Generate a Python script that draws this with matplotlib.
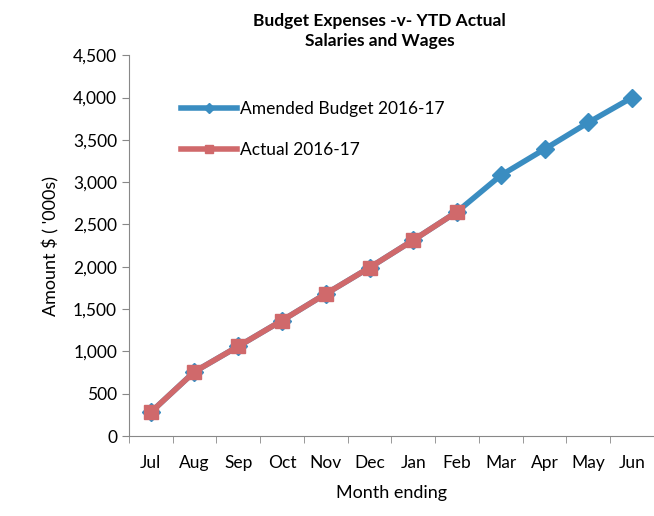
import matplotlib
matplotlib.use("Agg")
from matplotlib import pyplot as plt
from matplotlib.ticker import FuncFormatter

months = ["Jul", "Aug", "Sep", "Oct", "Nov", "Dec", "Jan", "Feb", "Mar", "Apr", "May", "Jun"]
budget = [280, 760, 1060, 1365, 1680, 1990, 2315, 2650, 3080, 3390, 3705, 4000]
actual = [280, 760, 1060, 1365, 1680, 1990, 2315, 2650]

plt.rcParams['font.family'] = ['Lato', 'DejaVu Sans']

fig = plt.figure(figsize=(6.54, 5.16), dpi=100)
ax = fig.add_axes([0.197, 0.155, 0.803, 0.738])

x = list(range(len(months)))
ax.plot(x, budget, color="#3a8dc1", lw=4, marker="D", ms=9,
        label="Amended Budget 2016-17", zorder=2)
ax.plot(x[:len(actual)], actual, color="#d0696b", lw=4, marker="s", ms=10,
        label="Actual 2016-17", zorder=3)

ax.set_xlim(-0.5, len(months) - 0.5)
ax.set_ylim(0, 4500)
ax.set_yticks(range(0, 4501, 500))
ax.yaxis.set_major_formatter(FuncFormatter(lambda v, p: f"{int(v):,}"))
ax.set_xticks(x)
ax.set_xticklabels(months)
ax.set_xticks([i - 0.5 for i in range(len(months) + 1)], minor=True)
ax.tick_params(axis="x", which="major", length=0, pad=14, labelsize=12.5)
ax.tick_params(axis="x", which="minor", length=5, color="#888888")
ax.tick_params(axis="y", length=5, color="#888888", labelsize=12.5)

for s in ["top", "right"]:
    ax.spines[s].set_visible(False)
for s in ["left", "bottom"]:
    ax.spines[s].set_color("#888888")

ax.set_ylabel("Amount $ ( '000s)", fontsize=13, labelpad=10)
ax.set_xlabel("Month ending", fontsize=13, labelpad=10)
fig.text(0.58, 0.94, "Budget Expenses -v- YTD Actual\nSalaries and Wages",
         ha="center", va="center", fontsize=12.5, fontweight="bold", linespacing=1.3)

ax.legend(loc="upper left", bbox_to_anchor=(0.07, 0.92), frameon=False,
          fontsize=12.5, handlelength=3.2, handletextpad=0.2, labelspacing=1.4,
          markerscale=0.6)

fig.savefig("out.png", dpi=100)
